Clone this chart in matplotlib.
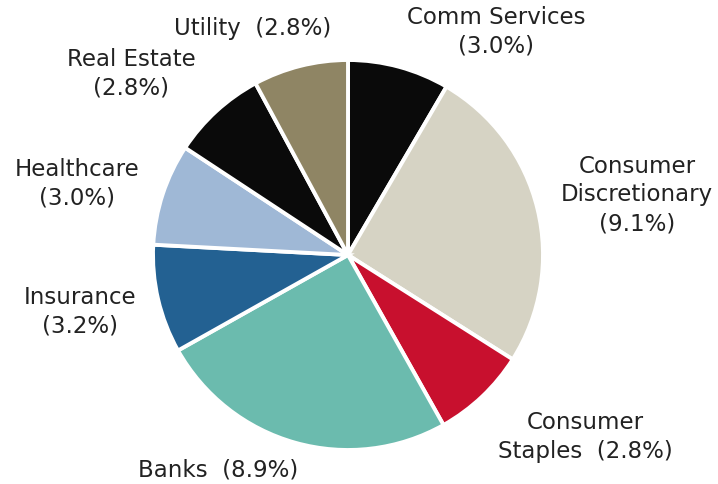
import matplotlib.pyplot as plt

sectors = ['Comm Services', 'Consumer Discretionary', 'Consumer Staples', 'Banks',
           'Insurance', 'Healthcare', 'Real Estate', 'Utility']
weights = [3.0, 9.1, 2.8, 8.9, 3.2, 3.0, 2.8, 2.8]
colors = ['#0a0a0a', '#d6d3c4', '#c8102e', '#6bbbae',
          '#236192', '#9fb8d6', '#0a0a0a', '#8f8564']

# label text and where it sits (pie radius = 1)
label_text = ['Comm Services\n(3.0%)', 'Consumer\nDiscretionary\n(9.1%)',
              'Consumer\nStaples  (2.8%)', 'Banks  (8.9%)', 'Insurance\n(3.2%)',
              'Healthcare\n(3.0%)', 'Real Estate\n(2.8%)', 'Utility  (2.8%)']
label_pos = [(0.76, 1.146), (1.482, 0.308), (1.215, -0.932), (-0.667, -1.103),
             (-1.374, -0.292), (-1.39, 0.364), (-1.113, 0.928), (-0.49, 1.164)]

fig = plt.figure(figsize=(7.18, 4.84), dpi=100)
ax = fig.add_axes([0, 0, 1, 1])

ax.pie(weights, colors=colors, startangle=90, counterclock=False, radius=1,
       wedgeprops=dict(edgecolor='white', linewidth=2.8))

for txt, (x, y) in zip(label_text, label_pos):
    ax.text(x, y, txt, ha='center', va='center', fontsize=16.5,
            color='#222222', linespacing=1.32)

ax.set_xlim(-348 / 195, 370 / 195)
ax.set_ylim(-229 / 195, 255 / 195)
ax.set_aspect('equal')
ax.axis('off')

fig.savefig('out.png', dpi=100)
